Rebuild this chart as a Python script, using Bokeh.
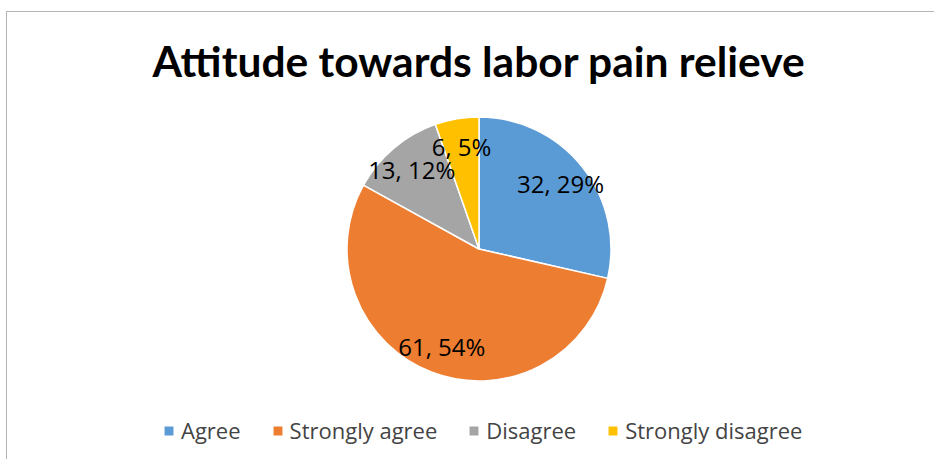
import math
from bokeh.plotting import figure
from bokeh.models import Range1d, ColumnDataSource, Legend, LegendItem, Label
from bokeh.core.properties import value
from bokeh.embed import file_html
from bokeh.resources import INLINE

# ---- data ----
categories = ["Agree", "Strongly agree", "Disagree", "Strongly disagree"]
counts = [32, 61, 13, 6]
colors = ["#5B9BD5", "#ED7D31", "#A5A5A5", "#FFC000"]
title_text = "Attitude towards labor pain relieve"

# ---- layout (page pixel coordinates) ----
X0, Y0 = 7.5, 12.5
W, H = 928, 448
CX, CY, R = 479, 249, 132
LABEL_FRAC = 0.79

def py(y):  # page y -> data y
    return 462 - y

total = sum(counts)
starts, ends, lx, ly, labels = [], [], [], [], []
cum = 0
for v in counts:
    a0 = math.pi / 2 - 2 * math.pi * cum / total
    cum += v
    a1 = math.pi / 2 - 2 * math.pi * cum / total
    starts.append(a0)
    ends.append(a1)
    mid = (a0 + a1) / 2
    lx.append(CX + LABEL_FRAC * R * math.cos(mid))
    ly.append(py(CY) + LABEL_FRAC * R * math.sin(mid))
    labels.append(f"{v}, {round(100 * v / total)}%")

src = ColumnDataSource(dict(cat=categories, val=counts, color=colors,
                            start=starts, end=ends, lx=lx, ly=ly, label=labels))

p = figure(width=W, height=H, output_backend="svg", toolbar_location=None,
           x_range=Range1d(X0, X0 + W), y_range=Range1d(py(Y0 + H), py(Y0)),
           min_border=0, outline_line_color=None,
           styles={"margin-left": "6px", "margin-top": "11px",
                   "border-left": "1.5px solid #b4b4b4",
                   "border-top": "1.5px solid #b4b4b4"})
p.axis.visible = False
p.grid.visible = False
p.background_fill_color = "white"
p.border_fill_color = "white"

wr = p.wedge(x=CX, y=py(CY), radius=R, radius_units="screen",
             start_angle="start", end_angle="end", direction="clock",
             fill_color="color", line_color="white", line_width=1.5, source=src)

p.text(x="lx", y="ly", text="label", source=src, text_align="center",
       text_baseline="middle", text_font=value("Open Sans"),
       text_font_size="24px", text_color="black")

p.add_layout(Label(x=479, y=py(60), text=title_text, text_align="center",
                   text_baseline="middle", text_font="Lato", text_font_style="bold",
                   text_font_size="42.5px", text_color="black"))

items = [LegendItem(label=c, renderers=[wr], index=i) for i, c in enumerate(categories)]
legend = Legend(items=items, orientation="horizontal", location=(155, 15),
                glyph_width=13, glyph_height=13, label_standoff=6, spacing=30,
                padding=0, margin=0, border_line_color=None,
                background_fill_alpha=0, label_text_font="Open Sans",
                label_text_font_size="22px", label_height=20)
p.add_layout(legend, "center")

open("out.html", "w").write(file_html(p, INLINE))
